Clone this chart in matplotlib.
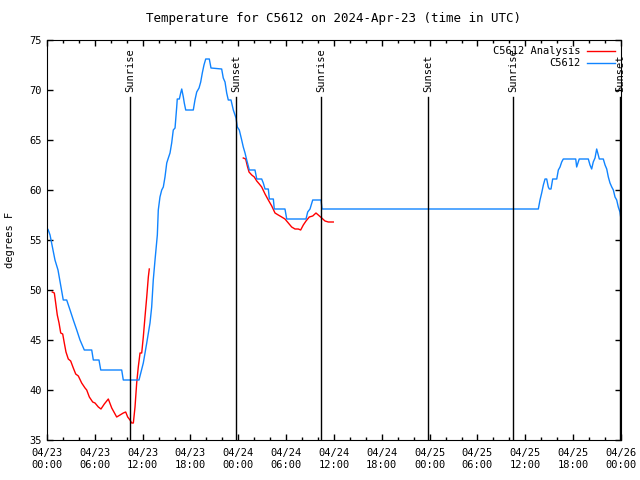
import numpy as np
import matplotlib
matplotlib.use("Agg")
import matplotlib.pyplot as plt
import matplotlib.dates as mdates
from datetime import datetime, timedelta

plt.rcParams['font.family'] = ['DejaVu Sans Mono']
plt.rcParams['font.size'] = 7.5

base = datetime(2024, 4, 23)

# observed station temps (hours since 04/23 00:00 UTC, degrees F)
obs_h = [0.0, 0.16, 0.38, 1.0, 1.38, 2.04, 2.47, 2.89, 3.3, 3.73, 4.14, 4.68, 5.61, 5.81,
         6.52, 6.74, 9.37, 9.57, 11.54, 12.08, 12.51, 12.92, 13.13, 13.33, 13.55, 13.84,
         13.96, 14.17, 14.39, 14.59, 14.8, 15.02, 15.22, 15.43, 15.64, 15.84, 16.06, 16.27,
         16.34, 16.6, 16.77, 16.9, 17.1, 17.22, 17.4, 18.35, 18.56, 18.78, 19.07, 19.28,
         19.48, 19.69, 19.91, 20.36, 20.57, 21.91, 22.11, 22.33, 22.54, 22.74, 23.08,
         23.37, 23.71, 23.87, 24.12, 24.42, 24.62, 24.84, 25.05, 25.38, 26.09, 26.31,
         26.93, 27.13, 27.35, 27.76, 27.89, 28.39, 28.51, 29.85, 30.07, 32.49, 32.7,
         32.99, 33.33, 34.37, 34.5, 61.63, 61.84, 62.05, 62.26, 62.47, 62.68, 62.88,
         63.01, 63.22, 63.43, 63.94, 64.14, 64.35, 64.56, 64.76, 66.32, 66.44, 66.76,
         67.9, 68.11, 68.32, 68.52, 68.74, 68.95, 69.15, 69.28, 69.78, 70.0, 70.21,
         70.41, 70.62, 70.84, 71.04, 71.25, 71.46, 71.66, 71.87, 71.96]
obs_t = [56.2, 56.0, 55.5, 53.0, 52.0, 49.0, 49.0, 48.0, 47.0, 46.0, 45.0, 44.0, 44.0, 43.0,
         43.0, 42.0, 42.0, 41.0, 41.0, 42.7, 44.7, 46.7, 48.3, 51.0, 53.0, 55.5,
         58.0, 59.3, 60.0, 60.3, 61.3, 62.7, 63.2, 63.7, 64.7, 66.0, 66.2, 68.3,
         69.1, 69.1, 69.7, 70.1, 69.3, 68.7, 68.0, 68.0, 69.0, 69.8, 70.2, 70.8,
         71.7, 72.5, 73.1, 73.1, 72.2, 72.1, 71.2, 70.8, 69.7, 69.0, 69.0,
         68.0, 67.2, 66.3, 66.0, 65.0, 64.3, 63.7, 63.0, 62.0, 62.0, 61.1,
         61.1, 60.7, 60.1, 60.1, 59.1, 59.1, 58.1, 58.1, 57.1, 57.1, 57.8,
         58.1, 59.0, 59.0, 58.1, 58.1, 59.0, 59.7, 60.5, 61.1, 61.1, 60.3,
         60.1, 60.1, 61.1, 61.1, 62.0, 62.3, 62.8, 63.1, 63.1, 62.3, 63.1,
         63.1, 62.5, 62.1, 62.8, 63.2, 64.1, 63.5, 63.1, 63.1, 62.5, 62.1,
         61.3, 60.7, 60.3, 60.0, 59.3, 59.0, 58.3, 57.8, 57.3]

# analysis, two pieces
ana1_h = [0.66, 0.92, 1.09, 1.29, 1.51, 1.72, 1.97, 2.17, 2.38, 2.67, 2.97, 3.3, 3.6, 3.93,
          4.35, 4.77, 4.98, 5.31, 5.73, 6.02, 6.44, 6.77, 7.19, 7.69, 8.12, 8.74, 9.16,
          9.57, 9.87, 10.12, 10.41, 10.62, 10.83, 11.04, 11.25, 11.45, 11.67, 11.88,
          12.08, 12.29, 12.51, 12.71, 12.83]
ana1_t = [49.8, 49.7, 48.7, 47.5, 46.7, 45.7, 45.6, 44.7, 43.8, 43.1, 42.9, 42.2, 41.6, 41.4,
          40.7, 40.2, 40.0, 39.3, 38.8, 38.7, 38.3, 38.1, 38.6, 39.1, 38.2, 37.3, 37.5,
          37.7, 37.8, 37.3, 37.0, 36.7, 36.7, 38.3, 40.7, 42.3, 43.7, 43.7,
          45.3, 47.3, 49.3, 51.3, 52.1]
ana2_h = [24.62, 24.92, 25.13, 25.34, 25.68, 26.0, 26.31, 26.63, 26.93, 27.35, 27.76, 28.19,
          28.6, 29.01, 29.44, 29.85, 30.27, 30.69, 31.11, 31.52, 31.82, 32.15, 32.49,
          32.9, 33.33, 33.74, 34.03, 34.46, 34.87, 35.29, 35.91]
ana2_t = [63.2, 63.1, 62.4, 61.8, 61.5, 61.3, 60.9, 60.6, 60.3, 59.6, 59.0, 58.4,
          57.7, 57.5, 57.3, 57.1, 56.7, 56.3, 56.1, 56.1, 56.0, 56.5, 56.9,
          57.3, 57.4, 57.7, 57.5, 57.2, 56.9, 56.8, 56.8]

sun_h = [10.41, 23.71, 34.37, 47.79, 58.45, 71.87]
sun_lbl = ["Sunrise", "Sunset", "Sunrise", "Sunset", "Sunrise", "Sunset"]

def to_dt(hours):
    return [base + timedelta(hours=h) for h in hours]

fig = plt.figure(figsize=(6.4, 4.8), dpi=100)
ax = fig.add_axes([47/640, 40/480, 574/640, 400/480])

ax.plot(to_dt(ana1_h), ana1_t, color='#ff0000', lw=1, label='C5612 Analysis')
ax.plot(to_dt(ana2_h), ana2_t, color='#ff0000', lw=1)
ax.plot(to_dt(obs_h), obs_t, color='#1084ff', lw=1, label='C5612')

for h, lbl in zip(sun_h, sun_lbl):
    d = base + timedelta(hours=h)
    ax.plot([d, d], [35, 69.3], color='black', lw=1)
    ax.text(d, 69.8, lbl, rotation=90, ha='center', va='bottom', fontsize=7.5)

ax.set_xlim(base, base + timedelta(hours=72))
ax.set_ylim(35, 75)
ax.set_yticks(np.arange(35, 76, 5))
ax.xaxis.set_major_locator(mdates.HourLocator(byhour=[0, 6, 12, 18]))
ax.xaxis.set_minor_locator(mdates.HourLocator(byhour=range(0, 24, 2)))
ax.xaxis.set_major_formatter(mdates.DateFormatter('%m/%d\n%H:%M'))
ax.tick_params(which='both', direction='in', top=True, right=True)
ax.tick_params(which='major', length=4.5, width=1)
ax.tick_params(which='minor', length=2.5, width=1)
ax.tick_params(axis='x', pad=6)

ax.set_ylabel('degrees F')
ax.yaxis.set_label_coords(-0.055, 0.5)
ax.set_title('Temperature for C5612 on 2024-Apr-23 (time in UTC)', pad=13)
ax.legend(loc='upper right', markerfirst=False, frameon=False, handlelength=2.7,
          labelspacing=0.2, borderaxespad=0.2, handletextpad=0.6)

fig.savefig('out.png', dpi=100)
